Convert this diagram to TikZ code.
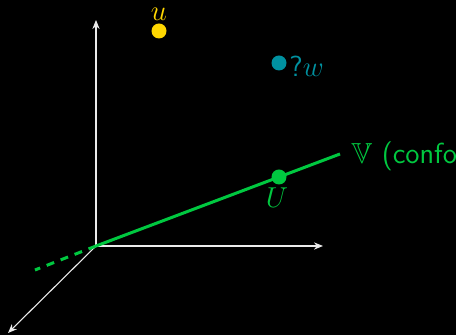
\documentclass[tikz,border=0pt]{standalone}
\usepackage{amssymb}
\usetikzlibrary{arrows.meta}
\definecolor{vgreen}{RGB}{0,200,64}
\definecolor{uyellow}{RGB}{255,215,0}
\definecolor{wteal}{RGB}{0,145,160}
\definecolor{axisc}{RGB}{235,235,235}
\tikzset{
  axis/.style={draw=axisc, line width=0.55pt, -{Stealth[length=4.5pt,width=3.6pt]}},
  vline/.style={draw=vgreen, line width=1.5pt},
  dot/.style={circle, inner sep=0pt, minimum size=7.5pt},
  lbl/.style={font=\fontsize{14.5}{17}\selectfont, inner sep=0pt}
}
\begin{document}
\begin{tikzpicture}[x=0.5pt,y=-0.5pt]
\fill[black] (0,0) rectangle (456,335);
\useasboundingbox (0,0) rectangle (456,335);
\coordinate (O) at (96,246);
\coordinate (Y) at (96,20);
\coordinate (X) at (323,246);
\coordinate (Z) at (8,333);
\coordinate (Vend) at (340,154);
\coordinate (Dend) at (35,270);
\draw[axis] (O) -- (Y);
\draw[axis] (O) -- (X);
\draw[axis] (O) -- (Z);
\draw[vline] (O) -- (Vend);
\draw[vline, dash pattern=on 4pt off 3.5pt] (O) -- (Dend);
\node[dot, fill=vgreen] (U) at (279,177) {};
\node[lbl, text=vgreen] (Ul) at (277,198) {$U$};
\node[dot, fill=uyellow] (u) at (159,31) {};
\node[lbl, text=uyellow] (ul) at (159,14) {$u$};
\node[dot, fill=wteal] (w) at (279,63) {};
\node[lbl, text=wteal, anchor=west] (wl) at (289,66) {\sffamily ?$w$};
\node[lbl, text=vgreen, anchor=west] (Vl) at (351,156) {$\mathbb{V}$ \sffamily (conformal)};
\end{tikzpicture}
\end{document}
